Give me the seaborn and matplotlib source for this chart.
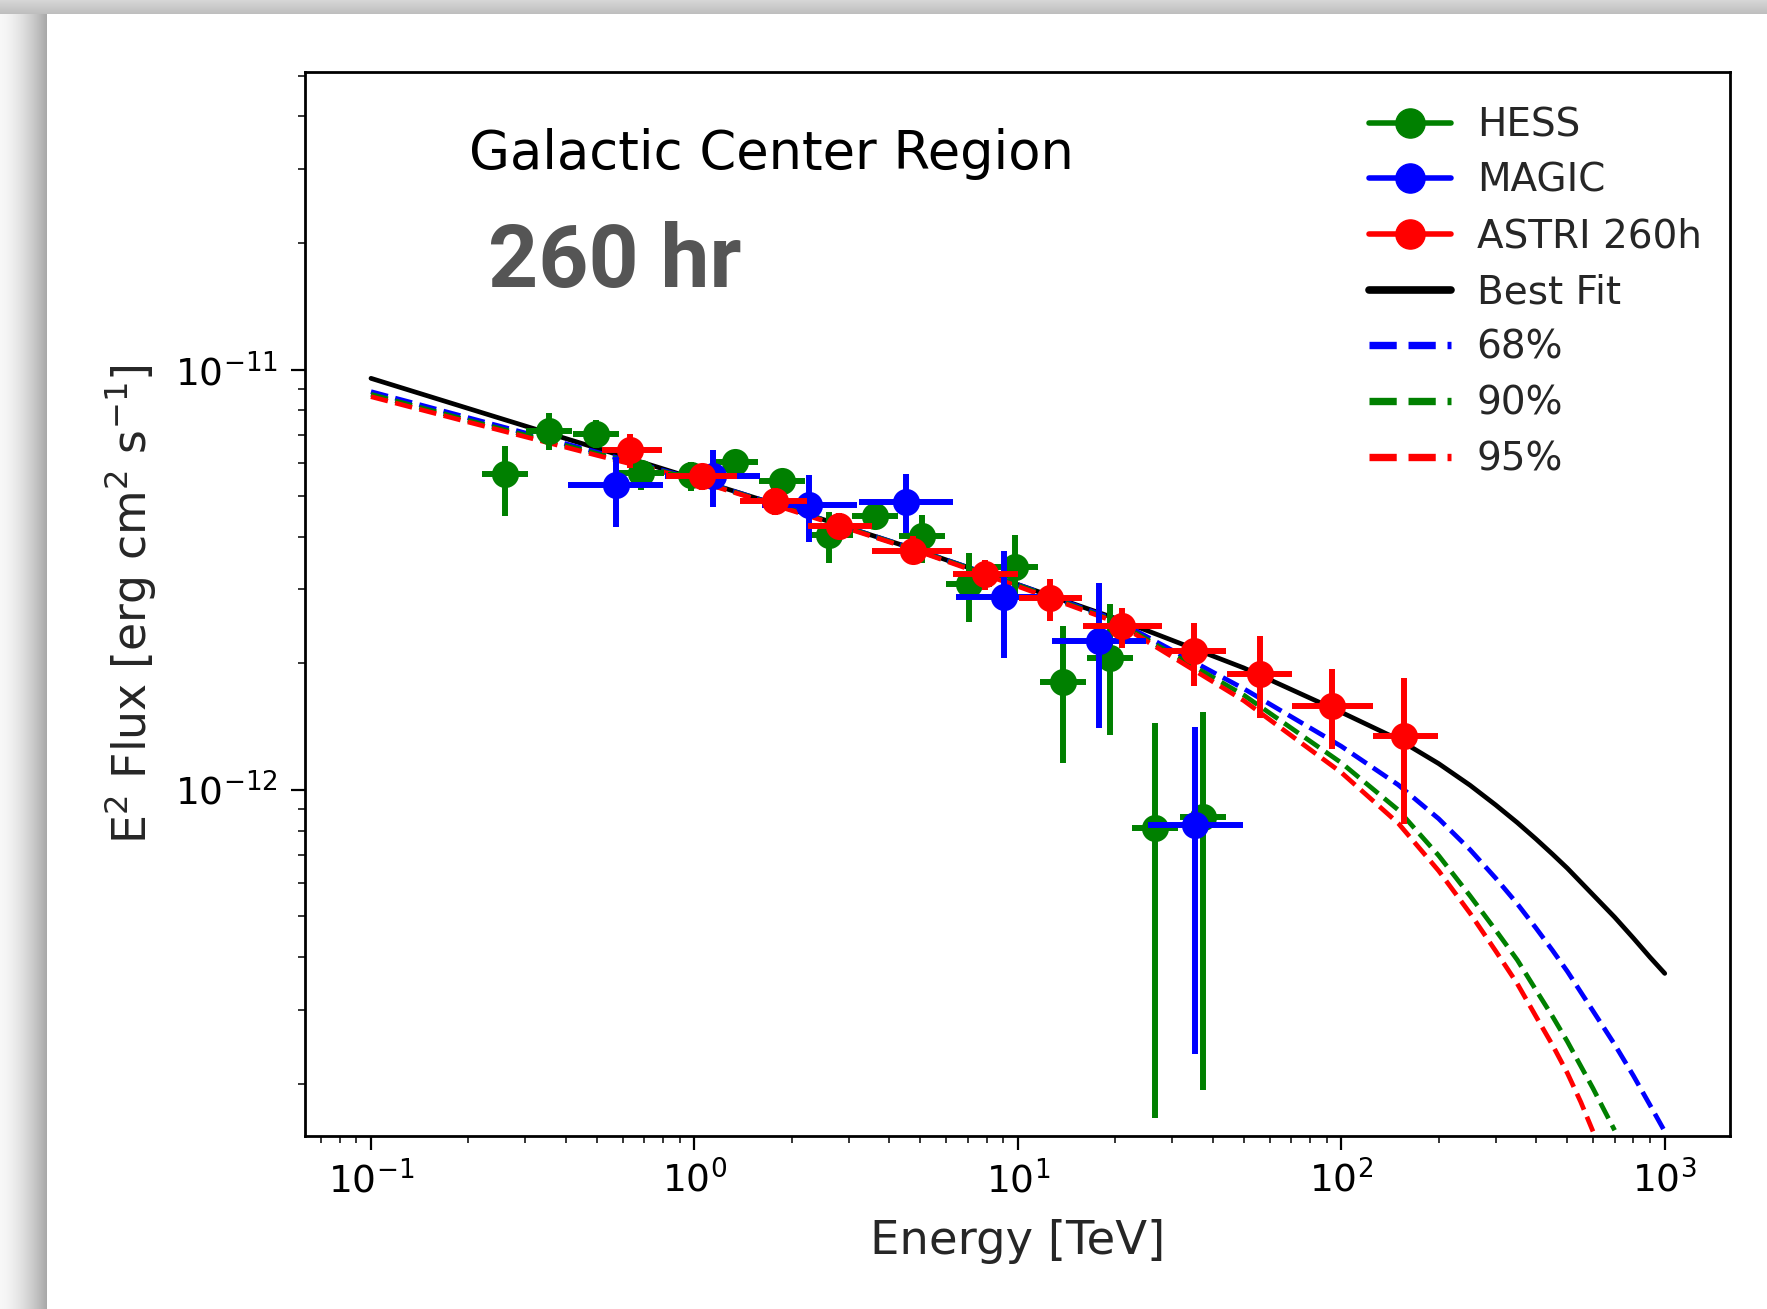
import numpy as np
import pandas as pd
import matplotlib
matplotlib.use("Agg")
import matplotlib.pyplot as plt
import seaborn as sns
from matplotlib.lines import Line2D
from matplotlib.ticker import FixedLocator, NullFormatter

# ---------------- data ----------------
# HESS
hess_energy = [0.260, 0.355, 0.497, 0.686, 0.976, 1.334, 1.867, 2.616, 3.605, 5.047, 7.069, 9.82, 13.75, 19.26, 26.53, 37.46]
hess_e_lo = [0.221, 0.301, 0.422, 0.582, 0.829, 1.132, 1.585, 2.221, 3.060, 4.284, 6.001, 8.34, 11.67, 16.35, 22.52, 31.80]
hess_e_hi = [0.306, 0.418, 0.585, 0.808, 1.150, 1.571, 2.199, 3.082, 4.247, 5.945, 8.327, 11.57, 16.20, 22.69, 31.25, 44.13]
hess_flux = [5.63e-12, 7.16e-12, 7.03e-12, 5.67e-12, 5.60e-12, 6.03e-12, 5.43e-12, 4.04e-12, 4.48e-12, 4.01e-12,
             3.09e-12, 3.39e-12, 1.81e-12, 2.06e-12, 8.11e-13, 8.63e-13]
hess_flux_hi = [6.57e-12, 7.90e-12, 7.57e-12, 6.10e-12, 6.03e-12, 6.45e-12, 5.81e-12, 4.59e-12, 4.80e-12, 4.51e-12,
                3.66e-12, 4.04e-12, 2.45e-12, 2.77e-12, 1.44e-12, 1.53e-12]
hess_flux_lo = [4.48e-12, 6.45e-12, 6.49e-12, 5.16e-12, 5.13e-12, 5.56e-12, 4.98e-12, 3.46e-12, 4.19e-12, 3.46e-12,
                2.51e-12, 2.84e-12, 1.16e-12, 1.35e-12, 1.66e-13, 1.93e-13]

# MAGIC
magic_energy = [0.572, 1.138, 2.267, 4.511, 9.05, 17.83, 35.41]
magic_e_lo = [0.408, 0.813, 1.619, 3.222, 6.46, 12.74, 25.29]
magic_e_hi = [0.800, 1.593, 3.174, 6.315, 12.67, 24.96, 49.57]
magic_flux = [5.31e-12, 5.58e-12, 4.76e-12, 4.85e-12, 2.88e-12, 2.26e-12, 8.26e-13]
magic_flux_hi = [6.21e-12, 6.45e-12, 5.61e-12, 5.64e-12, 3.70e-12, 3.11e-12, 1.41e-12]
magic_flux_lo = [4.21e-12, 4.71e-12, 3.89e-12, 4.08e-12, 2.06e-12, 1.40e-12, 2.36e-13]

# ASTRI 260h
astri_energy = [0.633, 1.055, 1.770, 2.809, 4.728, 7.913, 12.54, 21.03, 35.13, 55.95, 93.4, 156.7]
astri_e_lo = [0.518, 0.818, 1.388, 2.246, 3.546, 6.32, 10.06, 15.89, 28.07, 44.34, 70.58, 125.7]
astri_e_hi = [0.792, 1.355, 2.228, 3.546, 6.27, 9.98, 15.76, 27.85, 43.98, 70.58, 125.7, 198.6]
astri_flux = [6.45e-12, 5.58e-12, 4.86e-12, 4.24e-12, 3.71e-12, 3.26e-12, 2.86e-12, 2.45e-12, 2.14e-12, 1.89e-12,
              1.58e-12, 1.34e-12]
astri_flux_hi = [7.03e-12, 5.95e-12, 5.23e-12, 4.55e-12, 4.01e-12, 3.52e-12, 3.17e-12, 2.71e-12, 2.49e-12, 2.32e-12,
                 1.94e-12, 1.85e-12]
astri_flux_lo = [5.84e-12, 5.16e-12, 4.51e-12, 3.97e-12, 3.46e-12, 2.99e-12, 2.52e-12, 2.17e-12, 1.77e-12, 1.48e-12,
                 1.25e-12, 8.31e-13]

# model curves
fit_energy = [0.1, 0.2, 0.5, 1, 2, 5, 10, 20, 50, 100, 150, 200, 250, 300, 350, 400, 450, 500, 600, 700, 800, 900, 1000]
best_fit = [9.53e-12, 8.08e-12, 6.50e-12, 5.50e-12, 4.65e-12, 3.70e-12, 3.08e-12, 2.56e-12, 1.95e-12, 1.53e-12,
            1.319e-12, 1.155e-12, 1.026e-12, 9.21e-13, 8.36e-13, 7.64e-13, 7.03e-13, 6.51e-13, 5.63e-13, 4.98e-13,
            4.44e-13, 4.00e-13, 3.66e-13]
cl68_energy = [0.1, 0.2, 0.5, 1, 2, 5, 10, 20, 50, 100, 150, 200, 250, 300, 350, 400, 450, 500, 600, 700, 800, 900, 1000]
cl68_flux = [8.86e-12, 7.68e-12, 6.36e-12, 5.49e-12, 4.65e-12, 3.70e-12, 3.08e-12, 2.54e-12, 1.74e-12, 1.27e-12,
             1.028e-12, 8.54e-13, 7.21e-13, 6.17e-13, 5.36e-13, 4.69e-13, 4.15e-13, 3.70e-13, 2.98e-13, 2.48e-13,
             2.09e-13, 1.78e-13, 1.54e-13]
cl90_energy = [0.1, 0.2, 0.5, 1, 2, 5, 10, 20, 50, 100, 150, 200, 250, 300, 350, 400, 450, 500, 600, 650, 700]
cl90_flux = [8.73e-12, 7.57e-12, 6.31e-12, 5.47e-12, 4.64e-12, 3.69e-12, 3.07e-12, 2.52e-12, 1.68e-12, 1.16e-12,
             8.96e-13, 6.98e-13, 5.60e-13, 4.64e-13, 3.94e-13, 3.34e-13, 2.89e-13, 2.52e-13, 1.95e-13, 1.73e-13,
             1.55e-13]
cl95_energy = [0.1, 0.2, 0.5, 1, 2, 5, 10, 20, 50, 100, 150, 200, 250, 300, 350, 400, 450, 500, 550, 600]
cl95_flux = [8.62e-12, 7.50e-12, 6.25e-12, 5.46e-12, 4.62e-12, 3.68e-12, 3.05e-12, 2.51e-12, 1.63e-12, 1.10e-12,
             8.33e-13, 6.42e-13, 5.09e-13, 4.14e-13, 3.46e-13, 2.89e-13, 2.47e-13, 2.12e-13, 1.81e-13, 1.54e-13]

x_limits = (0.0627, 1589)
y_limits = (1.503e-13, 5.10e-11)
x_major_ticks = [1e-1, 1e0, 1e1, 1e2, 1e3]
y_major_ticks = [1e-12, 1e-11]

# ---------------- figure ----------------
sns.set_theme(style="ticks")
plt.rcParams["font.family"] = ["DejaVu Sans"]
plt.rcParams["mathtext.fontset"] = "dejavusans"

W, H = 1767, 1309
fig = plt.figure(figsize=(W / 100, H / 100), dpi=100, facecolor="white")

# page shadow on the left and top (decoration)
lw_px = 47
xs = np.arange(lw_px) / lw_px
shade_left = 0.97 - 0.32 * xs ** 1.6
left_img = np.tile(shade_left, (H, 1))
fig.figimage(np.dstack([left_img] * 3), xo=0, yo=0, origin="upper", zorder=0)
th_px = 14
ys = np.arange(th_px) / th_px
shade_top = 0.84 - 0.10 * ys
top_img = np.tile(shade_top[:, None], (1, W))
fig.figimage(np.dstack([top_img] * 3), xo=0, yo=H - th_px, origin="upper", zorder=0)

ax = fig.add_axes([305.4 / W, 1 - 1135.9 / H, (1729.8 - 305.4) / W, (1135.9 - 72.1) / H])
ax.set_xscale("log")
ax.set_yscale("log")
ax.set_facecolor("white")

curve_lw = 3.4
sns.lineplot(x=fit_energy, y=best_fit, color="black", linewidth=curve_lw, ax=ax, zorder=2, estimator=None)
sns.lineplot(x=cl68_energy, y=cl68_flux, color="blue", linewidth=curve_lw, linestyle="--", ax=ax, zorder=2, estimator=None)
sns.lineplot(x=cl90_energy, y=cl90_flux, color="green", linewidth=curve_lw, linestyle="--", ax=ax, zorder=2, estimator=None)
sns.lineplot(x=cl95_energy, y=cl95_flux, color="red", linewidth=curve_lw, linestyle="--", ax=ax, zorder=2, estimator=None)


def draw_points(e, elo, ehi, f, flo, fhi, color, z):
    e = np.asarray(e); elo = np.asarray(elo); ehi = np.asarray(ehi)
    f = np.asarray(f); flo = np.asarray(flo); fhi = np.asarray(fhi)
    ax.errorbar(e, f, xerr=[e - elo, ehi - e], yerr=[f - flo, fhi - f], fmt="none",
                ecolor=color, elinewidth=4.3, capsize=0, zorder=z)
    sns.scatterplot(x=e, y=f, color=color, s=19.5 ** 2, linewidth=0, ax=ax, zorder=z + 0.1)


draw_points(hess_energy, hess_e_lo, hess_e_hi, hess_flux, hess_flux_lo, hess_flux_hi, "green", 3)
draw_points(magic_energy, magic_e_lo, magic_e_hi, magic_flux, magic_flux_lo, magic_flux_hi, "blue", 4)
draw_points(astri_energy, astri_e_lo, astri_e_hi, astri_flux, astri_flux_lo, astri_flux_hi, "red", 5)

ax.set_xlim(*x_limits)
ax.set_ylim(*y_limits)

ax.set_xlabel("Energy [TeV]", fontsize=33.5, labelpad=13)
ax.set_ylabel(r"E$^2$ Flux [erg cm$^2$ s$^{-1}$]", fontsize=33, labelpad=12)

x_minor = [m * 10.0 ** k for k in range(-2, 4) for m in range(2, 10)
           if x_limits[0] <= m * 10.0 ** k <= x_limits[1]]
y_minor = [m * 10.0 ** k for k in range(-14, -10) for m in range(2, 10)
           if y_limits[0] <= m * 10.0 ** k <= y_limits[1]]
ax.xaxis.set_major_locator(FixedLocator(x_major_ticks))
ax.xaxis.set_minor_locator(FixedLocator(x_minor))
ax.xaxis.set_minor_formatter(NullFormatter())
ax.yaxis.set_major_locator(FixedLocator(y_major_ticks))
ax.yaxis.set_minor_locator(FixedLocator(y_minor))
ax.yaxis.set_minor_formatter(NullFormatter())
ax.set_xticklabels([r"$10^{-1}$", r"$10^{0}$", r"$10^{1}$", r"$10^{2}$", r"$10^{3}$"])
ax.set_yticklabels([r"$10^{-12}$", r"$10^{-11}$"])

ax.tick_params(which="major", direction="out", length=10, width=1.6, labelsize=27, colors="black")
ax.tick_params(axis="x", which="major", pad=8)
ax.tick_params(axis="y", which="major", pad=10)
ax.tick_params(which="minor", direction="out", length=5, width=1.3)
ax.tick_params(top=False, right=False, which="both")
for sp in ax.spines.values():
    sp.set_linewidth(2.0)
    sp.set_color("black")
    sp.set_visible(True)

ax.text(0.1147, 0.909, "Galactic Center Region", transform=ax.transAxes, fontsize=38,
        va="baseline", ha="left", color="black")
ax.text(0.1282, 0.7976, "260 hr", transform=ax.transAxes, fontsize=63, fontweight="bold",
        family=["Roboto", "DejaVu Sans"], va="baseline", ha="left", color="#555555")

handles = [
    Line2D([], [], color="green", marker="o", ms=21, lw=4, label="HESS"),
    Line2D([], [], color="blue", marker="o", ms=21, lw=4, label="MAGIC"),
    Line2D([], [], color="red", marker="o", ms=21, lw=4, label="ASTRI 260h"),
    Line2D([], [], color="black", lw=5.5, label="Best Fit"),
    Line2D([], [], color="blue", lw=5.3, ls="--", label="68%"),
    Line2D([], [], color="green", lw=5.3, ls="--", label="90%"),
    Line2D([], [], color="red", lw=5.3, ls="--", label="95%"),
]
ax.legend(handles=handles, loc="upper left", bbox_to_anchor=(0.7467, 0.968), frameon=False,
          fontsize=28, handlelength=2.1, handletextpad=0.67, labelspacing=0.455,
          borderpad=0, borderaxespad=0)

fig.savefig("out.png", dpi=100, facecolor="white")
